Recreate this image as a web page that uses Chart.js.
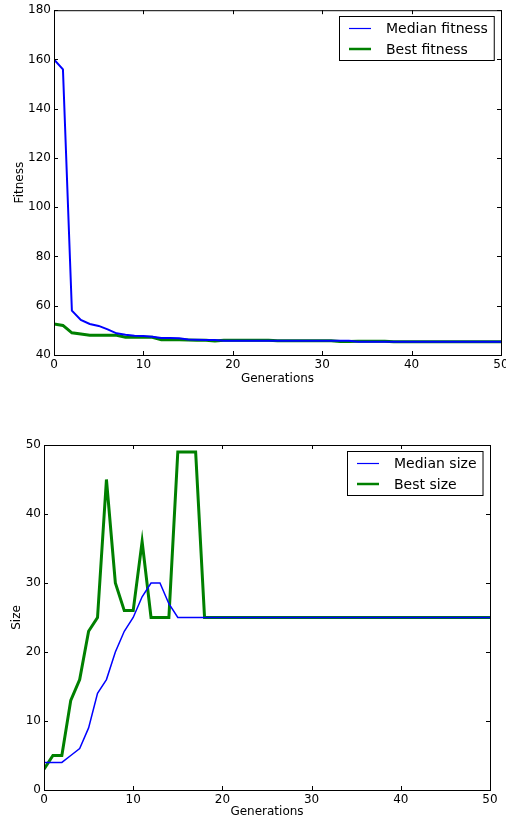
<!DOCTYPE html>
<html>
<head>
<meta charset="utf-8">
<script src="https://cdn.jsdelivr.net/npm/chart.js@4.4.0/dist/chart.umd.min.js"></script>
<style>
  body { margin: 0; background: #fff; }
  canvas { display: block; }
</style>
</head>
<body>
<canvas id="fitChart" width="506" height="411"></canvas>
<canvas id="sizeChart" width="506" height="412"></canvas>
<script>
'use strict'

//------------- Data ------------- //
var generations = [0, 1, 2, 3, 4, 5, 6, 7, 8, 9, 10, 11, 12, 13, 14, 15, 16, 17, 18, 19, 20,
  21, 22, 23, 24, 25, 26, 27, 28, 29, 30, 31, 32, 33, 34, 35, 36, 37, 38, 39, 40,
  41, 42, 43, 44, 45, 46, 47, 48, 49, 50];

var medianFitness = [160, 156, 58, 54.2, 52.6, 51.8, 50.4, 48.8, 48.2, 47.8, 47.7,
  47.4, 46.9, 46.9, 46.8, 46.3, 46.2, 46.1, 46.1,
  45.8, 45.8, 45.8, 45.8, 45.8, 45.8, 45.8, 45.8, 45.8, 45.8, 45.8, 45.8, 45.8, 45.8, 45.8,
  45.4, 45.4, 45.4, 45.4, 45.4, 45.4, 45.4, 45.4, 45.4, 45.4, 45.4, 45.4, 45.4, 45.4, 45.4, 45.4, 45.4];

var bestFitness = [52.6, 52.0, 49.0, 48.5, 48.0, 48.0, 48.0, 48.0, 47.2, 47.2, 47.2,
  47.2, 46.2, 46.2, 46.2, 46.1, 46.0, 46.0, 45.7,
  46.0, 46.0, 46.0, 46.0, 46.0, 46.0,
  45.8, 45.8, 45.8, 45.8, 45.8, 45.8, 45.8,
  45.5, 45.5,
  45.6, 45.6, 45.6, 45.6,
  45.4, 45.4, 45.4, 45.4, 45.4, 45.4, 45.4, 45.4, 45.4, 45.4, 45.4, 45.4, 45.4];

var medianSize = [4, 4, 4, 5, 6, 9, 14, 16, 20, 23, 25, 28, 30, 30, 27, 25,
  25, 25, 25, 25, 25, 25, 25, 25, 25, 25, 25, 25, 25, 25, 25, 25, 25, 25, 25, 25, 25,
  25, 25, 25, 25, 25, 25, 25, 25, 25, 25, 25, 25, 25, 25];

var bestSize = [3, 5, 5, 13, 16, 23, 25, 45, 30, 26, 26, 36, 25, 25, 25, 49, 49, 49, 25,
  25, 25, 25, 25, 25, 25, 25, 25, 25, 25, 25, 25, 25, 25, 25, 25, 25, 25, 25, 25, 25, 25,
  25, 25, 25, 25, 25, 25, 25, 25, 25, 25];

var genTicks = [0, 10, 20, 30, 40, 50];
var fitnessTicks = [40, 60, 80, 100, 120, 140, 160, 180];
var sizeTicks = [0, 10, 20, 30, 40, 50];

Chart.defaults.font.family = "'DejaVu Sans', sans-serif";
Chart.defaults.color = '#000';

function toPoints(ys){
  return generations.map(function(g, k){ return {x: g, y: ys[k]}; });
}

// frame, inward ticks on all four sides, legend box inside the plot
var mplPlugin = {
  id: 'mpl',
  afterDatasetsDraw: function(chart){
    var a = chart.chartArea, c = chart.ctx;
    var xs = chart.scales.x, ys = chart.scales.y;
    c.save();
    c.strokeStyle = '#000';
    c.lineWidth = 1;
    c.strokeRect(a.left + 0.5, a.top + 0.5, a.right - a.left, a.bottom - a.top);
    c.beginPath();
    xs.ticks.forEach(function(t){
      var px = Math.round(xs.getPixelForValue(t.value)) + 0.5;
      c.moveTo(px, a.bottom); c.lineTo(px, a.bottom - 4);
      c.moveTo(px, a.top); c.lineTo(px, a.top + 4);
    });
    ys.ticks.forEach(function(t){
      var py = Math.round(ys.getPixelForValue(t.value)) + 0.5;
      c.moveTo(a.left, py); c.lineTo(a.left + 4, py);
      c.moveTo(a.right, py); c.lineTo(a.right - 4, py);
    });
    c.stroke();

    // legend
    c.font = "14px 'DejaVu Sans', sans-serif";
    var sets = chart.data.datasets;
    var tw = 0;
    sets.forEach(function(d){ tw = Math.max(tw, c.measureText(d.label).width); });
    var bw = 47 + tw + 6, bh = 44;
    var bx = Math.round(a.right - 7 - bw), by = Math.round(a.top + 6);
    c.fillStyle = '#fff';
    c.fillRect(bx, by, bw, bh);
    c.strokeStyle = '#000';
    c.lineWidth = 1;
    c.strokeRect(bx + 0.5, by + 0.5, bw, bh);
    c.textBaseline = 'middle';
    sets.forEach(function(d, k){
      var ry = by + 12.5 + k * 20.5;
      c.strokeStyle = d.borderColor;
      c.lineWidth = d.legendWidth;
      c.beginPath();
      c.moveTo(bx + 10, ry); c.lineTo(bx + 32, ry);
      c.stroke();
      c.fillStyle = '#000';
      c.fillText(d.label, bx + 47, ry + 1);
    });
    c.restore();
  }
};

function makeChart(id, cfg){
  var ctx = document.getElementById(id).getContext('2d');
  return new Chart(ctx, {
    type: 'line',
    data: {
      datasets: [{
        label: cfg.labels[0],
        data: toPoints(cfg.median),
        borderColor: '#0000ff',
        borderWidth: cfg.medianWidth,
        legendWidth: 1.2,
        pointRadius: 0,
        fill: false,
        tension: 0
      }, {
        label: cfg.labels[1],
        data: toPoints(cfg.best),
        borderColor: '#008000',
        borderWidth: 3,
        legendWidth: 2.5,
        pointRadius: 0,
        fill: false,
        tension: 0
      }]
    },
    options: {
      responsive: false,
      animation: false,
      devicePixelRatio: 1,
      layout: { padding: cfg.padding },
      plugins: { legend: { display: false }, tooltip: { enabled: false } },
      scales: {
        x: {
          type: 'linear',
          min: 0, max: 50,
          afterBuildTicks: function(s){ s.ticks = genTicks.map(function(v){ return {value: v}; }); },
          afterFit: function(s){ s.height = cfg.xHeight; s.paddingRight = 0; s.paddingLeft = 0; },
          grid: { display: false, drawTicks: false },
          border: { display: false },
          ticks: { padding: 3, font: { size: 12 }, maxRotation: 0 },
          title: { display: true, text: 'Generations', font: { size: 12 }, padding: { top: 0, bottom: cfg.xTitlePad } }
        },
        y: {
          type: 'linear',
          min: cfg.yTicks[0], max: cfg.yTicks[cfg.yTicks.length - 1],
          afterBuildTicks: function(s){ s.ticks = cfg.yTicks.map(function(v){ return {value: v}; }); },
          afterFit: function(s){ s.width = cfg.yWidth; },
          grid: { display: false, drawTicks: false },
          border: { display: false },
          ticks: { padding: 3, font: { size: 12 } },
          title: { display: true, text: cfg.yTitle, font: { size: 12 }, padding: { top: cfg.yTitlePad, bottom: 0 } }
        }
      }
    },
    plugins: [mplPlugin]
  });
}

makeChart('fitChart', {
  labels: ['Median fitness', 'Best fitness'],
  median: medianFitness, best: bestFitness, medianWidth: 2,
  yTicks: fitnessTicks, yTitle: 'Fitness',
  padding: { left: 0, right: 5, top: 10, bottom: 0 },
  xHeight: 56, yWidth: 54, xTitlePad: 25, yTitlePad: 13
});

makeChart('sizeChart', {
  labels: ['Median size', 'Best size'],
  median: medianSize, best: bestSize, medianWidth: 1.5,
  yTicks: sizeTicks, yTitle: 'Size',
  padding: { left: 0, right: 16, top: 34, bottom: 0 },
  xHeight: 33, yWidth: 44, xTitlePad: 4, yTitlePad: 10
});
</script>
</body>
</html>
